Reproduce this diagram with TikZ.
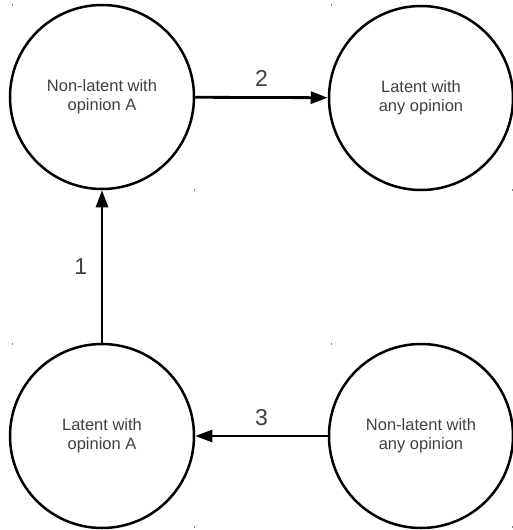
\documentclass[tikz,border=0pt]{standalone}
\usepackage{fontspec}
\setmainfont{Liberation Sans}
\usetikzlibrary{arrows.meta}
\begin{document}
\begin{tikzpicture}[x=1pt,y=-1pt,
  state/.style={circle, draw=black, line width=2.5pt, minimum size=184pt, inner sep=0pt,
    align=center, text=black!75, font=\fontsize{16.5}{19}\selectfont},
  conn/.style={line width=2.8pt, -{Triangle[length=17pt,width=12pt]}},
  lbl/.style={text=black!75, font=\fontsize{23}{26}\selectfont},
  tick/.style={black!50, line width=0.8pt}]
\useasboundingbox (0,0) rectangle (513,530);
\node[state] (nla) at (102,97) {Non-latent with\\opinion A};
\node[state] (lany) at (421,98) {Latent with\\any opinion};
\node[state] (la) at (102,436) {Latent with\\opinion A};
\node[state] (nlany) at (421,436) {Non-latent with\\any opinion};
\draw[conn] (nla) -- (lany) node[lbl, midway, above=6pt] {2};
\draw[conn] (la) -- (nla) node[lbl, midway, left=10pt] {1};
\draw[conn] (nlany) -- (la) node[lbl, midway, above=6pt] {3};
\foreach \x/\y in {12/5, 331/5, 12/344, 331/344, 194/190, 512/190, 194/527, 512/527}
  \draw[tick] (\x,\y-1.2) -- (\x,\y+1.2);
\end{tikzpicture}
\end{document}
